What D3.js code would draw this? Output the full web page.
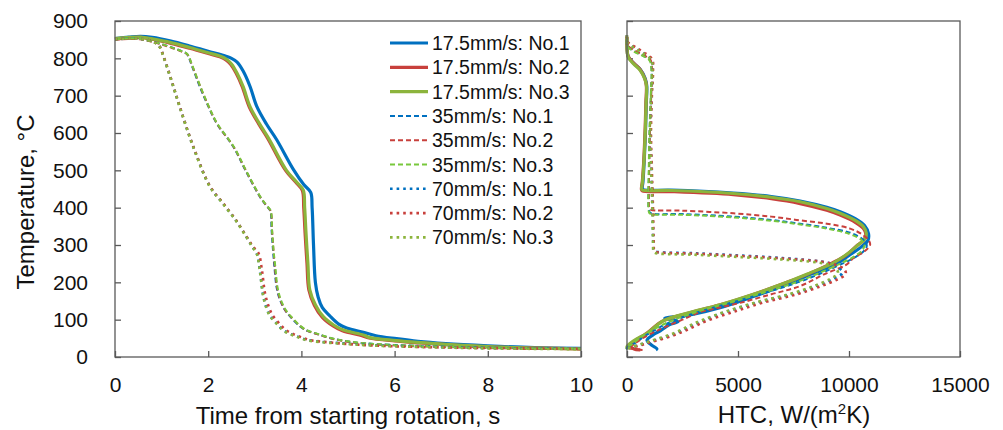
<!DOCTYPE html>
<html>
<head>
<meta charset="utf-8">
<script src="https://cdn.jsdelivr.net/npm/d3@7"></script>
<style>
  body { margin: 0; background: #fff; }
  svg { font-family: "Liberation Sans", Arial, sans-serif; }
</style>
</head>
<body>
<svg id="chart" width="1003" height="430"></svg>
<script>
// cooling curves: [time s, temperature C]
var time175_1 = [[0,853],[0.3,857],[0.55,859],[0.8,856],[1.2,846],[1.6,833],[2.0,819],[2.3,809],[2.5,800],[2.62,790],[2.75,766],[2.9,724],[3.04,672],[3.25,624],[3.47,582],[3.83,502],[4.05,462],[4.2,441],[4.23,400],[4.26,300],[4.3,200],[4.36,160],[4.45,132],[4.61,110],[4.8,88],[4.97,78],[5.33,66],[5.6,57],[6.04,49],[6.5,42],[7.1,36],[8,30],[9,25],[10,23]];
var time175_2 = [[0,852],[0.3,855],[0.55,856],[0.8,851],[1.2,840],[1.6,827],[2.0,813],[2.25,804],[2.38,796],[2.48,784],[2.6,760],[2.73,724],[2.88,670],[3.08,625],[3.28,585],[3.66,500],[3.88,468],[4.02,446],[4.05,400],[4.08,330],[4.12,250],[4.16,180],[4.28,138],[4.45,106],[4.68,83],[4.88,70],[5.3,57],[5.45,51],[6.0,43],[6.5,38],[7.1,33],[8,27],[9,24],[10,22]];
var time175_3 = [[0,853],[0.3,856],[0.55,857],[0.8,852],[1.2,842],[1.6,829],[2.0,815],[2.25,806],[2.4,797],[2.5,785],[2.62,760],[2.75,724],[2.9,670],[3.1,625],[3.3,585],[3.68,500],[3.9,468],[4.04,447],[4.07,400],[4.1,330],[4.14,250],[4.18,180],[4.3,140],[4.47,108],[4.7,85],[4.9,72],[5.33,59],[5.47,52],[6.04,44],[6.5,39],[7.1,34],[8,28],[9,24],[10,22]];
var time35_1 = [[0,851],[0.3,853],[0.54,852],[0.89,842],[1.2,830],[1.45,818],[1.54,812],[1.65,780],[1.82,724],[2.0,672],[2.18,626],[2.54,563],[2.8,500],[3.11,429],[3.25,405],[3.33,392],[3.36,340],[3.39,287],[3.42,242],[3.47,185],[3.54,153],[3.65,125],[3.76,108],[3.95,84],[4.11,71],[4.33,62],[4.61,51],[4.97,42],[5.33,37],[6,32],[7,28],[8,25],[9,23],[10,22]];
var time35_2 = [[0,850],[0.3,852],[0.54,851],[0.89,841],[1.2,829],[1.45,817],[1.55,811],[1.66,779],[1.83,724],[2.01,671],[2.19,625],[2.55,562],[2.81,499],[3.12,428],[3.26,404],[3.34,391],[3.37,340],[3.4,287],[3.43,242],[3.48,185],[3.55,152],[3.66,124],[3.78,107],[3.97,83],[4.13,70],[4.35,61],[4.63,50],[4.99,41],[5.35,36],[6,31],[7,27],[8,24],[9,22],[10,21]];
var time35_3 = [[0,851],[0.3,853],[0.54,852],[0.89,842],[1.2,830],[1.45,818],[1.55,812],[1.66,780],[1.83,725],[2.01,672],[2.19,626],[2.55,563],[2.81,500],[3.12,429],[3.26,405],[3.34,392],[3.37,340],[3.4,288],[3.44,242],[3.49,185],[3.56,153],[3.67,125],[3.78,108],[3.97,84],[4.13,71],[4.35,62],[4.63,51],[4.99,42],[5.35,37],[6,32],[7,28],[8,25],[9,23],[10,22]];
var time70_1 = [[0,851],[0.3,853],[0.54,852],[0.8,846],[0.95,833],[1.04,805],[1.2,745],[1.39,670],[1.68,563],[2.04,456],[2.32,411],[2.6,365],[2.82,322],[2.95,295],[3.04,278],[3.11,230],[3.18,165],[3.25,132],[3.33,110],[3.47,90],[3.61,72],[3.8,60],[3.97,52],[4.11,46],[4.4,41],[4.83,37],[5.5,32],[6.5,28],[8,24],[10,22]];
var time70_2 = [[0,851],[0.3,853],[0.54,852],[0.8,846],[0.95,833],[1.04,806],[1.2,746],[1.39,671],[1.68,564],[2.04,457],[2.32,412],[2.6,366],[2.82,323],[2.96,296],[3.08,278],[3.15,235],[3.22,170],[3.3,135],[3.38,112],[3.52,91],[3.66,73],[3.85,60],[4.02,52],[4.16,46],[4.45,41],[4.88,36],[5.5,31],[6.5,27],[8,24],[10,22]];
var time70_3 = [[0,851],[0.3,853],[0.54,852],[0.8,845],[0.95,832],[1.04,804],[1.2,744],[1.39,669],[1.68,562],[2.04,455],[2.32,410],[2.6,364],[2.82,321],[2.95,294],[3.04,277],[3.11,229],[3.18,164],[3.25,131],[3.33,109],[3.47,89],[3.61,71],[3.8,59],[3.97,51],[4.11,45],[4.4,40],[4.83,36],[5.5,31],[6.5,27],[8,23],[10,21]];

// heat transfer coefficient curves: [HTC W/(m2K), temperature C]
var htc175_1 = [[0,856],[0,830],[60,804],[320,786],[600,770],[820,746],[890,726],[870,680],[830,600],[770,520],[720,470],[690,452],[730,448],[2000,447],[4790,439],[6500,430],[7800,418],[9000,401],[9600,389],[10300,370],[10700,352],[10880,330],[10850,312],[10550,295],[10000,272],[9450,250],[8300,222],[7200,195],[5690,162],[4190,132],[3000,115],[2200,108],[1700,104],[2300,95],[1900,86],[1500,70],[1185,60],[900,45],[1100,32],[1350,22],[1300,19]];
var htc175_2 = [[0,857],[0,832],[50,806],[300,787],[580,771],[790,748],[870,728],[850,680],[810,600],[750,520],[690,470],[650,449],[690,445],[2000,443],[4790,435],[6500,424],[7800,411],[9000,393],[9600,380],[10300,360],[10650,344],[10760,328],[10650,312],[10350,298],[9850,272],[9250,252],[8150,222],[7150,199],[5650,167],[4150,139],[2650,116],[1600,96],[850,62],[400,45],[150,32],[300,22],[600,19]];
var htc175_3 = [[0,858],[0,830],[50,804],[300,785],[585,769],[800,745],[880,725],[860,680],[820,600],[760,520],[700,470],[660,450],[700,447],[2000,446],[4790,438],[6500,428],[7800,416],[9000,398],[9600,385],[10300,365],[10650,349],[10780,332],[10700,315],[10400,300],[9900,275],[9300,252],[8200,224],[7200,200],[5690,168],[4190,140],[2690,117],[1640,97],[885,63],[400,47],[135,36],[0,28],[0,22]];
var htc35_1 = [[0,852],[0,835],[300,820],[700,808],[1036,795],[1110,770],[1080,700],[1020,600],[990,500],[970,420],[990,393],[1050,386],[2500,383],[4790,376],[6500,367],[7800,357],[9000,346],[10050,333],[10600,316],[10800,300],[10700,286],[10300,268],[9700,250],[8800,226],[7800,202],[6500,177],[5090,152],[4000,134],[3290,122],[2500,106],[1790,89],[1200,70],[700,52],[300,35],[0,25],[0,20]];
var htc35_2 = [[0,851],[0,836],[320,822],[720,809],[1050,797],[1120,772],[1090,700],[1030,600],[1000,500],[980,420],[1000,400],[1060,395],[2500,392],[4790,385],[6500,376],[7800,366],[9000,357],[10050,344],[10600,328],[10900,312],[10950,300],[10700,283],[10200,265],[9900,248],[8900,222],[7800,190],[6500,168],[5090,145],[4000,130],[3290,120],[2500,100],[1790,82],[1200,66],[700,50],[300,34],[100,24],[700,19]];
var htc35_3 = [[0,852],[0,834],[290,819],[690,807],[1020,794],[1100,769],[1070,700],[1010,600],[980,500],[960,420],[980,390],[1040,384],[2500,381],[4790,374],[6500,365],[7800,355],[9000,344],[10000,330],[10550,314],[10700,300],[10600,286],[10200,268],[9600,250],[8700,226],[7700,202],[6400,177],[5000,152],[3900,134],[3200,122],[2400,106],[1700,89],[1100,70],[600,52],[250,35],[0,25],[0,20]];
var htc70_1 = [[0,862],[0,845],[300,830],[700,815],[1110,796],[1150,760],[1100,700],[1060,600],[1100,500],[1150,400],[1185,300],[1200,287],[1260,283],[3000,278],[5000,272],[7000,265],[8694,256],[9300,248],[9600,236],[9700,225],[9300,210],[8600,192],[7500,170],[6000,148],[4500,122],[3440,98],[2840,82],[2300,66],[1640,52],[1000,41],[585,33],[200,26],[0,22]];
var htc70_2 = [[0,861],[0,846],[320,832],[720,817],[1130,798],[1170,762],[1120,700],[1080,600],[1120,500],[1170,400],[1205,300],[1220,286],[1280,282],[3000,277],[5000,271],[7000,264],[8800,255],[9450,246],[9800,234],[9850,222],[9450,207],[8750,190],[7650,168],[6150,146],[4800,121],[3600,97],[3000,81],[2450,66],[1800,52],[1150,41],[700,33],[300,26],[100,22]];
var htc70_3 = [[0,862],[0,844],[290,829],[690,814],[1100,795],[1140,759],[1090,700],[1050,600],[1090,500],[1140,400],[1175,300],[1190,283],[1250,279],[3000,274],[5000,268],[7000,261],[8600,253],[9200,245],[9450,234],[9500,224],[9150,209],[8450,191],[7350,169],[5850,147],[4400,121],[3350,98],[2750,82],[2200,66],[1550,52],[950,41],[550,33],[180,26],[0,22]];

var seriesNames = ["17.5mm/s: No.1","17.5mm/s: No.2","17.5mm/s: No.3","35mm/s: No.1","35mm/s: No.2","35mm/s: No.3","70mm/s: No.1","70mm/s: No.2","70mm/s: No.3"];
var timeSeries = [time175_1, time175_2, time175_3, time35_1, time35_2, time35_3, time70_1, time70_2, time70_3];
var htcSeries = [htc175_1, htc175_2, htc175_3, htc35_1, htc35_2, htc35_3, htc70_1, htc70_2, htc70_3];
var tempTicks = [0,100,200,300,400,500,600,700,800,900];
var timeTicks = [0,2,4,6,8,10];
var htcTicks = [0,5000,10000,15000];

var colors = ["#0070C0","#C8403C","#8CB43C","#0070C0","#C8403C","#78C83C","#0070C0","#C8403C","#8CB43C"];
var styles = ["solid","solid","solid","dash","dash","dash","dot","dot","dot"];

var svg = d3.select("#chart");
var axisColor = "#595959";

var y = d3.scaleLinear().domain([0, 900]).range([357, 21]);
var xT = d3.scaleLinear().domain([0, 10]).range([115, 581]);
var xH = d3.scaleLinear().domain([0, 15000]).range([627, 960]);

function styleLine(sel, i) {
    sel.attr("fill", "none")
        .attr("stroke", colors[i]);
    if (styles[i] == "solid") {
        sel.attr("stroke-width", 3.2);
    } else if (styles[i] == "dash") {
        sel.attr("stroke-width", 2).attr("stroke-dasharray", "5,3");
    } else {
        sel.attr("stroke-width", 2.6).attr("stroke-dasharray", "2.6,4");
    }
}

function drawPanel(x, xTicks, showYLabels, data) {
    var g = svg.append("g");

    var xAxis = d3.axisBottom(x).tickValues(xTicks).tickFormat(d3.format("d"))
        .tickSizeInner(-6).tickSizeOuter(0).tickPadding(20);
    var yAxis = d3.axisLeft(y).tickValues(tempTicks).tickSizeInner(-6).tickSizeOuter(0).tickPadding(27);
    if (!showYLabels) yAxis.tickFormat("");

    var gx = g.append("g").attr("transform", "translate(0,357)").call(xAxis);
    var gy = g.append("g").attr("transform", "translate(" + x.range()[0] + ",0)").call(yAxis);
    [gx, gy].forEach(function(a) {
        a.select(".domain").remove();
        a.selectAll("line").attr("stroke", axisColor).attr("stroke-width", 1.3);
        a.selectAll("text").attr("font-size", 21).attr("fill", "#111")
            .attr("font-family", "Liberation Sans, Arial, sans-serif");
    });

    var line = d3.line()
        .x(function(d) { return x(d[0]); })
        .y(function(d) { return y(d[1]); })
        .curve(d3.curveCatmullRom.alpha(0.5));

    data.forEach(function(s, i) {
        g.append("path").datum(s).attr("d", line).call(styleLine, i);
    });

    g.append("rect")
        .attr("x", x.range()[0]).attr("y", 21)
        .attr("width", x.range()[1] - x.range()[0]).attr("height", 336)
        .attr("fill", "none").attr("stroke", axisColor).attr("stroke-width", 1.3);
    return g;
}

drawPanel(xT, timeTicks, true, timeSeries);
drawPanel(xH, htcTicks, false, htcSeries);

// legend
var legend = svg.append("g");
seriesNames.forEach(function(name, i) {
    var ly = 43 + i * 24.3;
    legend.append("line").attr("x1", 390).attr("x2", 428).attr("y1", ly).attr("y2", ly).call(styleLine, i);
    legend.append("text").attr("x", 432).attr("y", ly).attr("dy", "0.36em")
        .attr("font-size", 19.5).attr("fill", "#111").text(name);
});

// axis titles
svg.append("text").attr("x", 348).attr("y", 424).attr("text-anchor", "middle")
    .attr("font-size", 24).attr("fill", "#111").text("Time from starting rotation, s");
svg.append("text").attr("transform", "translate(34,202) rotate(-90)").attr("text-anchor", "middle")
    .attr("font-size", 24).attr("fill", "#111").text("Temperature, °C");
var ht = svg.append("text").attr("x", 794).attr("y", 423).attr("text-anchor", "middle")
    .attr("font-size", 24).attr("fill", "#111");
ht.append("tspan").text("HTC, W/(m");
ht.append("tspan").attr("font-size", 15).attr("dy", -9).text("2");
ht.append("tspan").attr("dy", 9).text("K)");
</script>
</body>
</html>
